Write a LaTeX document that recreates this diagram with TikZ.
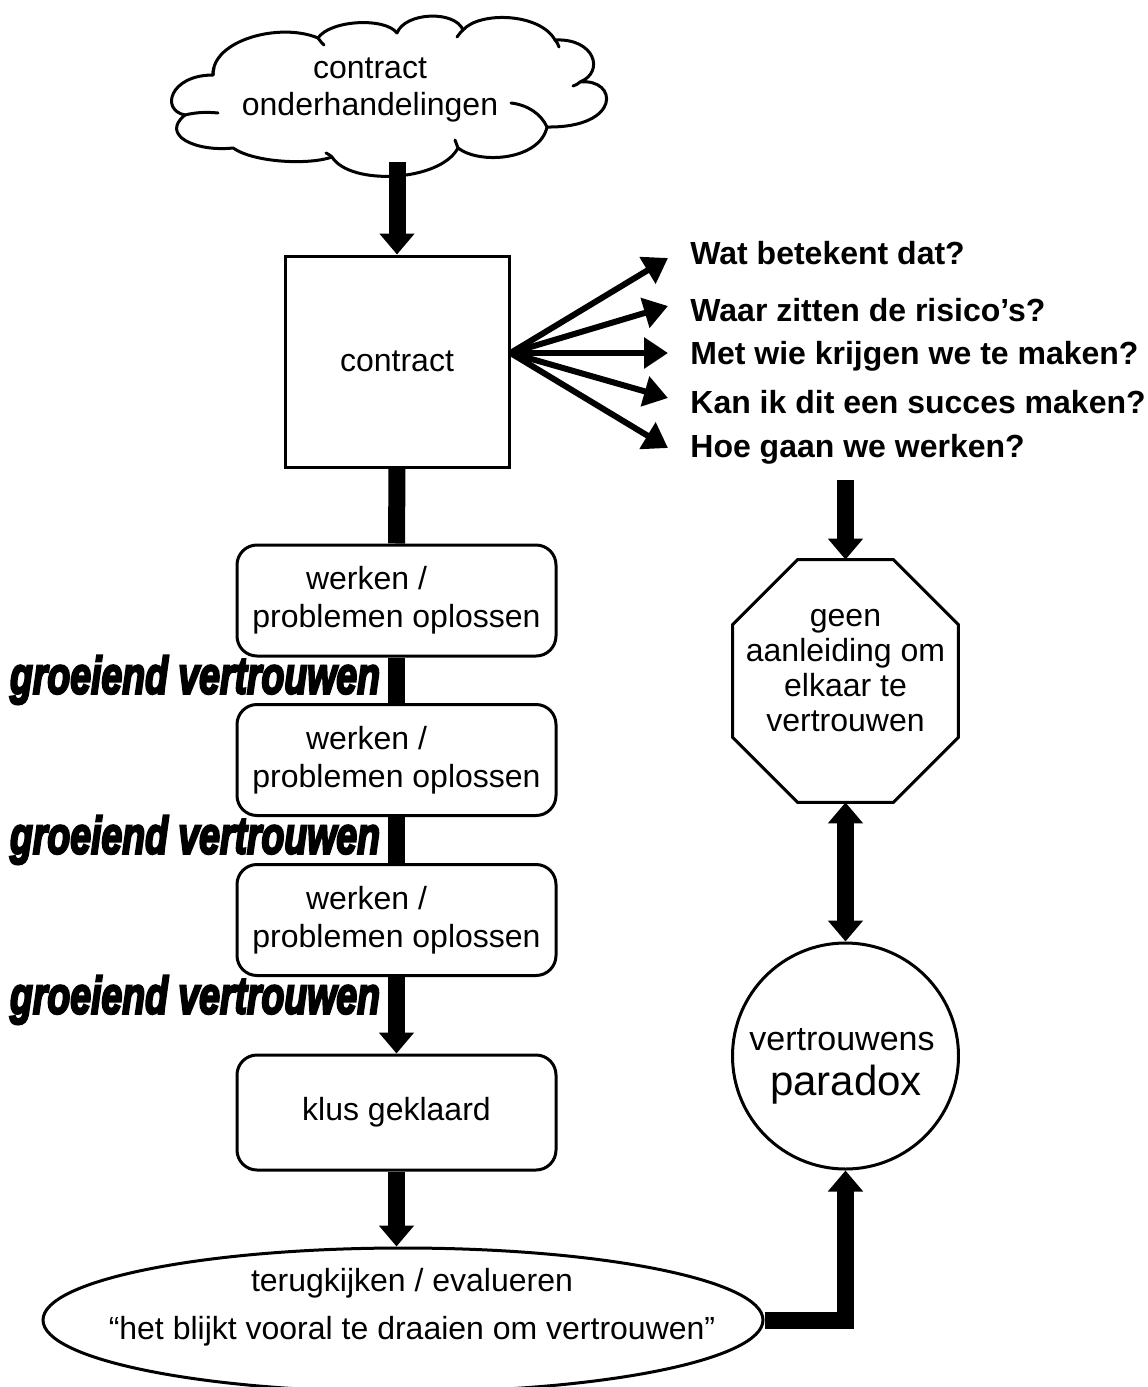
\documentclass[tikz,border=0pt]{standalone}
\usepackage{fontspec}
\setmainfont{Liberation Sans}
\newfontfamily\grofont[BoldItalicFeatures={FakeBold=5}]{Liberation Sans}
\usetikzlibrary{arrows.meta,shapes.geometric,calc}
\begin{document}
\begin{tikzpicture}[x=0.5pt,y=-0.5pt,
  every node/.style={font=\fontsize{16pt}{19pt}\selectfont, align=center},
  outl/.style={draw, line width=1.5pt},
  rbox/.style={outl, rounded corners=10pt, minimum width=159.5pt, minimum height=55.5pt, inner sep=0pt},
  trunk/.style={line width=8.5pt},
  bigarrow/.style={line width=8.5pt, -{Triangle[width=17pt,length=10.5pt]}},
  dblarrow/.style={line width=8.5pt, {Triangle[width=17pt,length=10.5pt]}-{Triangle[width=17pt,length=10.5pt]}},
  fan/.style={line width=3pt, -{Triangle[width=15pt,length=12pt]}},
  quest/.style={anchor=west, inner sep=0pt, font=\bfseries\fontsize{16pt}{19pt}\selectfont},
  cloudline/.style={line width=1.5pt, line cap=round, line join=round},
  growlbl/.style={inner sep=0pt, font=\grofont\bfseries\itshape\fontsize{26pt}{28pt}\selectfont}]
\useasboundingbox (0,0) rectangle (1147,1387);

% cloud
\node[inner sep=0pt, font=\fontsize{16pt}{18.5pt}\selectfont] (cloud) at (370,90) {contract\\onderhandelingen};
\draw[cloudline]
  (213,75) .. controls (212,40) and (280,22) .. (318,38)
  .. controls (330,20) and (385,17) .. (397,33)
  .. controls (405,12) and (455,10) .. (463,30)
  .. controls (480,11) and (540,13) .. (555,40)
  .. controls (595,38) and (605,72) .. (580,82)
  .. controls (618,78) and (622,128) .. (547,127)
  .. controls (540,160) and (480,165) .. (458,148)
  .. controls (440,182) and (350,186) .. (332,157)
  .. controls (310,165) and (255,163) .. (233,148)
  .. controls (195,152) and (160,135) .. (185,115)
  .. controls (160,110) and (170,75) .. (213,75);
% interior curls of the cloud
\draw[cloudline] (185,115) .. controls (197,112) and (208,112) .. (218,113);
\draw[cloudline] (511,103) .. controls (528,105) and (541,114) .. (547,127);
\draw[cloudline] (318,38) .. controls (320,41) and (322,43) .. (324,45);
\draw[cloudline] (463,30) .. controls (461,32) and (459,34) .. (457,37);
\draw[cloudline] (555,40) .. controls (557,42) and (558,44) .. (559,47);
\draw[cloudline] (580,82) .. controls (578,84) and (576,85) .. (573,86);
\draw[cloudline] (458,148) .. controls (457,145) and (456,143) .. (455,140);
\draw[cloudline] (332,157) .. controls (330,155) and (328,154) .. (326,153);
\draw[cloudline] (213,75) .. controls (213,73) and (213,71) .. (214,68);
\coordinate (cloudbot) at (397,162);

% contract box
\node[outl, minimum width=112pt, minimum height=105.5pt, inner sep=0pt] (con) at (397,361.5) {contract};
\draw[bigarrow] (cloudbot) -- (con.north);

% questions
\node[quest] (q1) at (690,253) {Wat betekent dat?};
\node[quest] (q2) at (690,310) {Waar zitten de risico’s?};
\node[quest] (q3) at (690,356) {Met wie krijgen we te maken?};
\node[quest] (q4) at (690,402) {Kan ik dit een succes maken?};
\node[quest] (q5) at (690,449) {Hoe gaan we werken?};
\coordinate (fo) at ($(con.east)+(0,-8.5)$);
\coordinate (t1) at (668,258);
\coordinate (t2) at (668,306);
\coordinate (t3) at (668,353);
\coordinate (t4) at (668,398);
\coordinate (t5) at (668,448);
\foreach \t in {t1,t2,t3,t4,t5} \draw[fan] (fo) -- (\t);

% work boxes
\node[rbox] (b1) at (396.5,600.5) {werken /\rule{30pt}{0pt}\\problemen oplossen};
\node[rbox] (b2) at (396.5,760) {werken /\rule{30pt}{0pt}\\problemen oplossen};
\node[rbox] (b3) at (396.5,920) {werken /\rule{30pt}{0pt}\\problemen oplossen};
\node[rbox, minimum height=57.5pt] (b4) at (396.5,1112.5) {klus geklaard};

\draw[trunk] (con.south) -- (b1.north);
\draw[trunk] (b1.south) -- (b2.north);
\draw[trunk] (b2.south) -- (b3.north);
\draw[bigarrow] (b3.south) -- (b4.north);

% growing trust labels
\node[growlbl] (g1) at (195,680) {\resizebox{185pt}{\height}{groeiend vertrouwen}};
\node[growlbl] (g2) at (195,840) {\resizebox{185pt}{\height}{groeiend vertrouwen}};
\node[growlbl] (g3) at (195,1000) {\resizebox{185pt}{\height}{groeiend vertrouwen}};

% ellipse
\node[ellipse, outl, minimum width=360pt, minimum height=72pt, inner sep=0pt] (ell) at (403,1320) {};
\node[inner sep=0pt] (elltext) at (412,1307) {terugkijken / evalueren\\[5pt]“het blijkt vooral te draaien om vertrouwen”};
\draw[bigarrow] (b4.south) -- (b4.south |- ell.north);

% octagon
\node[minimum width=112.5pt, minimum height=121pt, inner sep=0pt] (oct) at (845.5,681) {};
\draw[line width=1.5pt, line join=miter]
  ($(oct.north west)+(65,0)$) -- ($(oct.north east)+(-65,0)$) --
  ($(oct.north east)+(0,65)$) -- ($(oct.south east)+(0,-65)$) --
  ($(oct.south east)+(-65,0)$) -- ($(oct.south west)+(65,0)$) --
  ($(oct.south west)+(0,-65)$) -- ($(oct.north west)+(0,65)$) -- cycle;
\node[inner sep=0pt, font=\fontsize{16pt}{17.5pt}\selectfont] (octtext) at (845.5,671) {geen\\aanleiding om\\elkaar te\\vertrouwen};
\coordinate (qa) at (845.5,480);
\draw[bigarrow] (qa) -- (oct.north);

% circle
\node[circle, outl, minimum size=113pt, inner sep=0pt] (circ) at (845.5,1056) {};
\node[inner sep=0pt, font=\fontsize{17pt}{20pt}\selectfont] (ct1) at (842,1040) {vertrouwens};
\node[inner sep=0pt, font=\fontsize{21pt}{24pt}\selectfont] (ct2) at (846,1085) {paradox};
\draw[dblarrow] (oct.south) -- (circ.north);
\draw[bigarrow] (ell.east) -| (circ.south);
\end{tikzpicture}
\end{document}
